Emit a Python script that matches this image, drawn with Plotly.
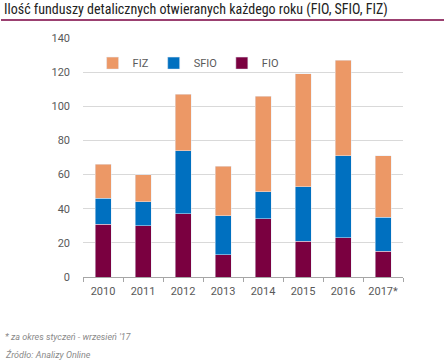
import plotly.graph_objects as go

years = ["2010", "2011", "2012", "2013", "2014", "2015", "2016", "2017*"]
fio = [31, 30, 37, 13, 34, 21, 23, 15]
sfio = [15, 14, 37, 23, 16, 32, 48, 20]
fiz = [20, 16, 33, 29, 56, 66, 56, 36]

title = "Ilość funduszy detalicznych otwieranych każdego roku (FIO, SFIO, FIZ)"
note = "* za okres styczeń - wrzesień '17"
source = "Źródło: Analizy Online"

fig = go.Figure()
fig.add_bar(x=years, y=fio, name="FIO", marker_color="#7A0040")
fig.add_bar(x=years, y=sfio, name="SFIO", marker_color="#0070C0")
fig.add_bar(x=years, y=fiz, name="FIZ", marker_color="#EC9866")

fig.update_layout(
    barmode="stack",
    bargap=0.6,
    width=444, height=361,
    margin=dict(l=83, r=41, t=38, b=84),
    plot_bgcolor="white", paper_bgcolor="white",
    font=dict(family="Roboto, Liberation Sans, sans-serif", size=11, color="#595959"),
    showlegend=True,
    legend=dict(orientation="h", traceorder="reversed", x=0.03, y=0.895,
                xanchor="left", yanchor="middle", font=dict(size=11, color="#595959"),
                itemwidth=30, entrywidth=0, bgcolor="rgba(0,0,0,0)"),
    yaxis=dict(range=[0, 140], dtick=20, showgrid=True, gridcolor="#D9D9D9",
               gridwidth=1, zeroline=False, showline=False, ticks="",
               ticklabelstandoff=12),
    xaxis=dict(showline=True, linecolor="#A6A6A6", linewidth=1, ticks="outside",
               tickson="boundaries", ticklen=4, tickcolor="#A6A6A6",
               ticklabelstandoff=4),
)

fig.add_annotation(text=title, xref="paper", yref="paper", x=-80/320, y=1 + 28/239,
                   xanchor="left", yanchor="middle", showarrow=False, borderpad=0,
                   font=dict(family="Roboto Condensed, Liberation Sans Narrow, Roboto, sans-serif",
                             size=14, color="#222222"))
fig.add_shape(type="line", xref="paper", yref="paper", x0=-82/320, x1=1 + 41/320,
              y0=1 + 18/239, y1=1 + 18/239, line=dict(color="#7A0040", width=1.5))
fig.add_annotation(text="<i>" + note + "</i>", xref="paper", yref="paper",
                   x=-80/320, y=-(337 - 277)/239, xanchor="left", yanchor="middle",
                   showarrow=False, font=dict(size=9, color="#8a8a8a"))
fig.add_annotation(text="<i>" + source + "</i>", xref="paper", yref="paper",
                   x=-80/320, y=-(354 - 277)/239, xanchor="left", yanchor="middle",
                   showarrow=False, font=dict(size=9, color="#8a8a8a"))

fig.write_html("out.html", config={"displayModeBar": False},
               post_script="document.body.style.margin='0';")
